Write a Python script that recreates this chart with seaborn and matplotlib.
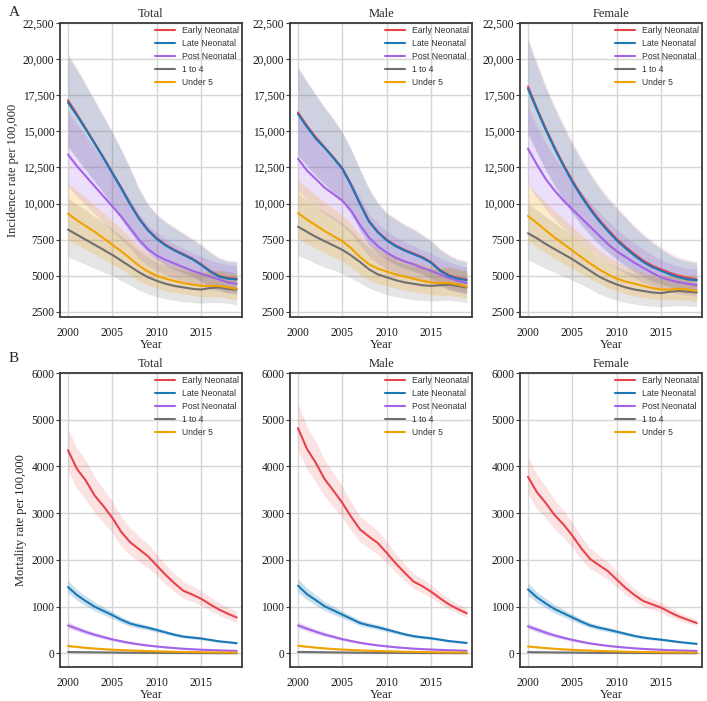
import matplotlib
matplotlib.use("Agg")
import matplotlib.pyplot as plt
import seaborn as sns
from matplotlib.ticker import FuncFormatter

# ---- data (rate per 100,000) ----
years = list(range(2000, 2020))
groups = ["Early Neonatal", "Late Neonatal", "Post Neonatal", "1 to 4", "Under 5"]
colors = ["#e8434a", "#1a78b8", "#a362e8", "#6f6f6f", "#f2a200"]
sexes = ["Total", "Male", "Female"]

# Incidence - Total
inc_total_early = [17150, 16200, 15200, 14200, 13200, 12150, 11100, 10000, 9000, 8200, 7600, 7150, 6800, 6500, 6200, 5800, 5350, 5000, 4850, 4800]
inc_total_early_hi = [20400, 19400, 18300, 17200, 16100, 15000, 13800, 12500, 11100, 10000, 9300, 8800, 8400, 8000, 7600, 7200, 6700, 6300, 6100, 6050]
inc_total_early_lo = [14000, 13200, 12400, 11600, 10800, 9900, 9000, 8100, 7300, 6700, 6200, 5800, 5500, 5250, 5000, 4700, 4350, 4100, 3950, 3900]
inc_total_late = [17000, 16100, 15150, 14150, 13150, 12100, 11050, 9950, 8950, 8150, 7550, 7100, 6750, 6450, 6150, 5750, 5300, 4950, 4800, 4750]
inc_total_late_hi = [20200, 19250, 18200, 17100, 16000, 14900, 13700, 12400, 11000, 9900, 9200, 8700, 8300, 7900, 7500, 7100, 6600, 6200, 6000, 5950]
inc_total_late_lo = [13900, 13100, 12300, 11500, 10700, 9800, 8900, 8000, 7200, 6600, 6100, 5700, 5400, 5150, 4900, 4600, 4250, 4000, 3850, 3800]
inc_total_post = [13400, 12600, 11900, 11200, 10500, 9800, 9100, 8300, 7500, 6850, 6400, 6100, 5850, 5600, 5350, 5150, 4950, 4750, 4550, 4450]
inc_total_post_hi = [16400, 15500, 14700, 13800, 13000, 12100, 11300, 10300, 9300, 8500, 8000, 7600, 7200, 6900, 6600, 6350, 6100, 5900, 5750, 5700]
inc_total_post_lo = [11200, 10500, 9900, 9300, 8700, 8100, 7500, 6900, 6200, 5700, 5350, 5100, 4850, 4650, 4450, 4300, 4100, 3950, 3800, 3700]
inc_total_1to4 = [8200, 7850, 7500, 7150, 6800, 6450, 6050, 5650, 5250, 4900, 4650, 4450, 4300, 4200, 4100, 4050, 4150, 4200, 4100, 4050]
inc_total_1to4_hi = [10400, 9950, 9550, 9100, 8700, 8250, 7750, 7250, 6750, 6300, 5950, 5700, 5500, 5400, 5250, 5200, 5300, 5400, 5300, 5200]
inc_total_1to4_lo = [6300, 6050, 5800, 5500, 5250, 5000, 4650, 4350, 4000, 3750, 3550, 3400, 3300, 3200, 3150, 3100, 3150, 3150, 3100, 3000]
inc_total_u5 = [9300, 8850, 8450, 8050, 7600, 7150, 6700, 6200, 5700, 5300, 5000, 4800, 4650, 4500, 4400, 4300, 4300, 4300, 4200, 4100]
inc_total_u5_hi = [11400, 10900, 10400, 9900, 9350, 8800, 8250, 7650, 7050, 6550, 6200, 5950, 5750, 5550, 5400, 5300, 5300, 5350, 5200, 5100]
inc_total_u5_lo = [7500, 7150, 6800, 6500, 6150, 5800, 5450, 5050, 4650, 4350, 4150, 3950, 3850, 3750, 3650, 3550, 3550, 3550, 3450, 3350]

# Incidence - Male
inc_male_early = [16300, 15400, 14600, 13900, 13200, 12450, 11300, 10000, 8800, 8050, 7500, 7100, 6800, 6550, 6300, 5950, 5400, 5050, 4850, 4750]
inc_male_early_hi = [19500, 18500, 17600, 16700, 15900, 15000, 13800, 12400, 11100, 10100, 9400, 9000, 8600, 8300, 7900, 7500, 6900, 6500, 6200, 6050]
inc_male_early_lo = [13400, 12700, 12000, 11400, 10800, 10200, 9300, 8200, 7200, 6600, 6200, 5850, 5600, 5400, 5200, 4900, 4450, 4150, 4000, 3900]
inc_male_late = [16200, 15300, 14500, 13850, 13150, 12400, 11250, 9950, 8750, 8000, 7450, 7050, 6750, 6500, 6250, 5900, 5350, 5000, 4800, 4700]
inc_male_late_hi = [19400, 18400, 17500, 16600, 15800, 14900, 13700, 12300, 11000, 10000, 9300, 8900, 8500, 8200, 7800, 7400, 6800, 6400, 6100, 5950]
inc_male_late_lo = [13300, 12600, 11900, 11300, 10700, 10100, 9200, 8100, 7100, 6500, 6100, 5750, 5500, 5300, 5100, 4800, 4350, 4050, 3900, 3800]
inc_male_post = [13100, 12300, 11700, 11100, 10650, 10200, 9500, 8500, 7650, 7050, 6600, 6250, 6000, 5800, 5550, 5350, 5100, 4850, 4650, 4500]
inc_male_post_hi = [16000, 15100, 14400, 13700, 13100, 12500, 11600, 10400, 9300, 8600, 8100, 7700, 7350, 7100, 6800, 6550, 6250, 5950, 5750, 5600]
inc_male_post_lo = [10900, 10300, 9800, 9300, 8900, 8500, 7900, 7100, 6350, 5850, 5500, 5200, 5000, 4850, 4650, 4450, 4250, 4050, 3900, 3750]
inc_male_1to4 = [8400, 8050, 7700, 7400, 7100, 6800, 6400, 5950, 5450, 5100, 4900, 4700, 4550, 4450, 4350, 4300, 4350, 4400, 4300, 4200]
inc_male_1to4_hi = [10700, 10250, 9800, 9450, 9050, 8650, 8150, 7550, 6950, 6500, 6250, 6000, 5800, 5650, 5550, 5450, 5500, 5600, 5450, 5350]
inc_male_1to4_lo = [6400, 6150, 5850, 5600, 5400, 5150, 4850, 4500, 4150, 3900, 3700, 3550, 3450, 3350, 3300, 3250, 3300, 3300, 3250, 3150]
inc_male_u5 = [9350, 8900, 8500, 8100, 7750, 7400, 6900, 6300, 5800, 5500, 5300, 5100, 4950, 4800, 4650, 4550, 4500, 4500, 4400, 4250]
inc_male_u5_hi = [11600, 11100, 10600, 10100, 9650, 9200, 8600, 7850, 7200, 6850, 6550, 6300, 6100, 5950, 5800, 5650, 5600, 5600, 5500, 5300]
inc_male_u5_lo = [7600, 7250, 6900, 6600, 6300, 6000, 5600, 5100, 4700, 4450, 4300, 4150, 4000, 3900, 3800, 3700, 3650, 3650, 3550, 3450]

# Incidence - Female
inc_female_early = [18100, 16600, 15200, 13900, 12700, 11600, 10600, 9700, 8900, 8200, 7550, 7000, 6500, 6050, 5700, 5450, 5200, 5000, 4850, 4750]
inc_female_early_hi = [21500, 19800, 18200, 16800, 15500, 14300, 13200, 12200, 11300, 10500, 9800, 9150, 8500, 7950, 7450, 7000, 6600, 6300, 6150, 6000]
inc_female_early_lo = [14900, 13600, 12400, 11300, 10300, 9400, 8600, 7900, 7250, 6700, 6200, 5750, 5350, 5000, 4700, 4500, 4300, 4150, 4000, 3900]
inc_female_late = [17950, 16500, 15100, 13800, 12600, 11500, 10500, 9600, 8800, 8100, 7450, 6900, 6400, 5950, 5600, 5350, 5100, 4900, 4750, 4700]
inc_female_late_hi = [21300, 19600, 18000, 16600, 15300, 14100, 13000, 12000, 11100, 10300, 9650, 9000, 8350, 7800, 7300, 6850, 6450, 6150, 6000, 5900]
inc_female_late_lo = [14800, 13500, 12300, 11200, 10200, 9300, 8500, 7800, 7150, 6600, 6100, 5650, 5250, 4900, 4600, 4400, 4200, 4050, 3900, 3800]
inc_female_post = [13800, 12700, 11700, 10900, 10200, 9600, 9000, 8400, 7800, 7200, 6700, 6300, 5900, 5550, 5200, 4900, 4700, 4550, 4450, 4350]
inc_female_post_hi = [16700, 15400, 14200, 13200, 12300, 11500, 10800, 10100, 9400, 8800, 8200, 7700, 7250, 6850, 6450, 6100, 5850, 5650, 5550, 5450]
inc_female_post_lo = [11300, 10400, 9600, 8900, 8300, 7800, 7300, 6800, 6350, 5900, 5500, 5150, 4850, 4550, 4300, 4050, 3900, 3750, 3650, 3600]
inc_female_1to4 = [7950, 7600, 7200, 6850, 6500, 6150, 5750, 5350, 4950, 4650, 4400, 4200, 4050, 3950, 3850, 3800, 3900, 3950, 3900, 3850]
inc_female_1to4_hi = [10000, 9550, 9100, 8650, 8250, 7800, 7300, 6800, 6300, 5900, 5600, 5350, 5150, 5000, 4900, 4850, 4950, 5100, 5000, 4950]
inc_female_1to4_lo = [6100, 5800, 5500, 5250, 4950, 4700, 4400, 4100, 3750, 3500, 3300, 3150, 3050, 2950, 2900, 2850, 2900, 2950, 2900, 2850]
inc_female_u5 = [9150, 8650, 8150, 7650, 7200, 6750, 6300, 5850, 5450, 5100, 4800, 4600, 4450, 4300, 4150, 4050, 4050, 4100, 4050, 3950]
inc_female_u5_hi = [11300, 10700, 10100, 9500, 8950, 8400, 7850, 7300, 6800, 6350, 5950, 5650, 5450, 5250, 5100, 5000, 5050, 5150, 5100, 5000]
inc_female_u5_lo = [7400, 7000, 6600, 6200, 5850, 5500, 5150, 4800, 4450, 4150, 3950, 3750, 3600, 3500, 3400, 3350, 3350, 3350, 3300, 3200]

# Mortality - Total
mort_total_early = [4350, 3950, 3700, 3380, 3150, 2900, 2600, 2380, 2230, 2080, 1880, 1680, 1500, 1340, 1260, 1170, 1050, 940, 850, 770]
mort_total_early_hi = [4800, 4400, 4130, 3780, 3520, 3250, 2930, 2680, 2510, 2340, 2120, 1900, 1710, 1530, 1440, 1340, 1210, 1090, 990, 900]
mort_total_early_lo = [3900, 3530, 3290, 3010, 2800, 2570, 2290, 2100, 1970, 1840, 1660, 1480, 1320, 1180, 1110, 1030, 920, 820, 740, 660]
mort_total_late = [1420, 1250, 1120, 1000, 910, 820, 720, 640, 590, 550, 500, 450, 400, 360, 340, 320, 290, 260, 240, 220]
mort_total_late_hi = [1560, 1370, 1230, 1100, 1000, 900, 790, 700, 650, 600, 550, 495, 440, 400, 375, 350, 320, 285, 265, 245]
mort_total_late_lo = [1290, 1140, 1020, 910, 830, 745, 655, 580, 535, 500, 455, 410, 365, 330, 310, 290, 265, 235, 220, 200]
mort_total_post = [600, 530, 460, 400, 350, 300, 260, 225, 195, 170, 150, 130, 115, 100, 90, 80, 72, 65, 60, 55]
mort_total_post_hi = [670, 590, 515, 450, 390, 335, 290, 250, 218, 190, 168, 146, 129, 112, 101, 90, 81, 73, 68, 62]
mort_total_post_lo = [540, 475, 410, 355, 312, 268, 232, 200, 174, 152, 134, 116, 102, 89, 80, 71, 64, 58, 53, 49]
mort_total_1to4 = [30, 28, 26, 24, 22, 20, 18, 16, 15, 14, 12, 11, 10, 9, 8, 8, 7, 6, 6, 5]
mort_total_1to4_hi = [36, 34, 31, 29, 26, 24, 22, 19, 18, 17, 14, 13, 12, 11, 10, 10, 8, 7, 7, 6]
mort_total_1to4_lo = [24, 22, 21, 19, 18, 16, 14, 13, 12, 11, 10, 9, 8, 7, 6, 6, 6, 5, 5, 4]
mort_total_u5 = [160, 140, 120, 105, 92, 80, 72, 64, 57, 50, 45, 40, 36, 32, 29, 26, 23, 21, 19, 17]
mort_total_u5_hi = [185, 162, 139, 121, 106, 92, 83, 74, 66, 58, 52, 46, 41, 37, 33, 30, 26, 24, 22, 20]
mort_total_u5_lo = [137, 120, 103, 90, 79, 69, 62, 55, 49, 43, 39, 34, 31, 27, 25, 22, 20, 18, 16, 14]

# Mortality - Male
mort_male_early = [4820, 4380, 4080, 3730, 3480, 3220, 2920, 2650, 2500, 2360, 2150, 1930, 1730, 1540, 1440, 1320, 1180, 1050, 950, 860]
mort_male_early_hi = [5350, 4860, 4530, 4140, 3860, 3570, 3240, 2940, 2780, 2620, 2390, 2140, 1920, 1710, 1600, 1470, 1310, 1170, 1060, 960]
mort_male_early_lo = [4340, 3940, 3670, 3360, 3130, 2900, 2630, 2390, 2250, 2120, 1940, 1740, 1560, 1390, 1300, 1190, 1060, 950, 860, 770]
mort_male_late = [1450, 1270, 1140, 1010, 920, 830, 740, 650, 600, 560, 510, 460, 410, 370, 345, 325, 295, 265, 245, 225]
mort_male_late_hi = [1600, 1400, 1255, 1110, 1010, 910, 810, 715, 660, 615, 560, 505, 450, 405, 380, 355, 325, 290, 270, 248]
mort_male_late_lo = [1310, 1150, 1030, 915, 835, 755, 675, 590, 545, 510, 465, 420, 375, 338, 315, 297, 270, 242, 224, 205]
mort_male_post = [600, 530, 465, 405, 355, 305, 265, 228, 198, 173, 152, 133, 117, 103, 93, 84, 76, 69, 63, 57]
mort_male_post_hi = [670, 592, 520, 453, 397, 341, 296, 255, 221, 193, 170, 149, 131, 115, 104, 94, 85, 77, 70, 64]
mort_male_post_lo = [540, 477, 418, 364, 319, 274, 238, 205, 178, 156, 137, 120, 105, 93, 84, 76, 68, 62, 57, 51]
mort_male_1to4 = [32, 30, 28, 25, 23, 21, 19, 17, 16, 14, 13, 12, 11, 10, 9, 8, 7, 7, 6, 6]
mort_male_1to4_hi = [38, 36, 33, 30, 27, 25, 23, 20, 19, 17, 15, 14, 13, 12, 11, 10, 8, 8, 7, 7]
mort_male_1to4_lo = [26, 24, 22, 20, 18, 17, 15, 14, 13, 11, 10, 10, 9, 8, 7, 6, 6, 6, 5, 5]
mort_male_u5 = [165, 145, 125, 108, 95, 83, 74, 66, 58, 52, 46, 41, 37, 33, 30, 27, 24, 22, 20, 18]
mort_male_u5_hi = [190, 167, 144, 124, 109, 95, 85, 76, 67, 60, 53, 47, 43, 38, 35, 31, 28, 25, 23, 21]
mort_male_u5_lo = [142, 125, 108, 93, 82, 71, 64, 57, 50, 45, 40, 35, 32, 28, 26, 23, 21, 19, 17, 15]

# Mortality - Female
mort_female_early = [3780, 3450, 3220, 2960, 2760, 2520, 2250, 2020, 1890, 1760, 1580, 1400, 1250, 1120, 1050, 980, 880, 790, 720, 650]
mort_female_early_hi = [4200, 3830, 3570, 3280, 3060, 2800, 2500, 2250, 2100, 1960, 1760, 1560, 1390, 1250, 1170, 1090, 980, 880, 800, 730]
mort_female_early_lo = [3400, 3100, 2890, 2660, 2480, 2260, 2020, 1810, 1700, 1580, 1420, 1260, 1120, 1000, 945, 880, 790, 710, 645, 585]
mort_female_late = [1370, 1200, 1070, 950, 860, 770, 680, 600, 550, 510, 465, 420, 375, 340, 315, 295, 270, 245, 225, 205]
mort_female_late_hi = [1510, 1320, 1180, 1045, 945, 845, 745, 660, 605, 560, 510, 460, 410, 372, 345, 322, 295, 267, 245, 224]
mort_female_late_lo = [1240, 1090, 970, 860, 780, 700, 620, 545, 500, 465, 425, 384, 343, 311, 288, 270, 247, 224, 206, 188]
mort_female_post = [580, 510, 445, 385, 335, 290, 250, 215, 187, 163, 142, 125, 110, 97, 87, 78, 70, 63, 58, 53]
mort_female_post_hi = [650, 570, 498, 430, 374, 324, 279, 240, 209, 182, 159, 140, 123, 108, 97, 87, 78, 70, 65, 59]
mort_female_post_lo = [520, 457, 398, 345, 300, 260, 224, 193, 168, 146, 127, 112, 98, 87, 78, 70, 63, 56, 52, 47]
mort_female_1to4 = [28, 26, 24, 22, 20, 19, 17, 15, 14, 13, 12, 11, 10, 9, 8, 7, 7, 6, 6, 5]
mort_female_1to4_hi = [34, 31, 29, 26, 24, 23, 20, 18, 17, 16, 14, 13, 12, 11, 10, 8, 8, 7, 7, 6]
mort_female_1to4_lo = [22, 21, 19, 18, 16, 15, 14, 12, 11, 10, 10, 9, 8, 7, 6, 6, 6, 5, 5, 4]
mort_female_u5 = [150, 132, 115, 100, 88, 77, 68, 61, 54, 48, 43, 38, 34, 31, 28, 25, 23, 21, 19, 17]
mort_female_u5_hi = [173, 152, 132, 115, 101, 89, 78, 70, 62, 55, 49, 44, 39, 36, 32, 29, 26, 24, 22, 20]
mort_female_u5_lo = [128, 112, 98, 85, 75, 65, 58, 52, 46, 41, 37, 32, 29, 26, 24, 21, 20, 18, 16, 14]

# ---- collect series per panel: (mean, lo, hi) in group order ----
keys = ["early", "late", "post", "1to4", "u5"]
g = globals()
def panel_series(measure, sex):
    out = []
    for k in keys:
        base = f"{measure}_{sex}_{k}"
        out.append((g[base], g[base + "_lo"], g[base + "_hi"]))
    return out

# ---- style ----
sns.set_theme(style="whitegrid")
plt.rcParams["font.family"] = ["Liberation Serif", "DejaVu Serif"]
plt.rcParams["axes.edgecolor"] = "#3a3a3a"
plt.rcParams["axes.linewidth"] = 1.3
plt.rcParams["grid.color"] = "#d6d6d6"
plt.rcParams["grid.linewidth"] = 1.0

fig = plt.figure(figsize=(7.07, 7.01), dpi=100)
W, H = 707, 701
lefts = [60, 290, 520]
width = 182
rows = [
    dict(measure="inc", top=23, bottom=317, ylim=(2150, 22500),
         yticks=list(range(2500, 22501, 2500)), ylabel="Incidence rate per 100,000",
         alphas=[0.12, 0.2, 0.2, 0.18, 0.2], letter="A", letter_y=12),
    dict(measure="mort", top=373, bottom=667, ylim=(-290, 6000),
         yticks=list(range(0, 6001, 1000)), ylabel="Mortality rate per 100,000",
         alphas=[0.15, 0.22, 0.25, 0.2, 0.2], letter="B", letter_y=358),
]
line_z = [3, 4, 3, 3, 3]

def ytick_fmt(v, pos):
    return f"{v:,.0f}" if v >= 10000 else f"{v:.0f}"

for row in rows:
    for j, sex in enumerate(sexes):
        ax = fig.add_axes([lefts[j] / W, 1 - row["bottom"] / H, width / W,
                           (row["bottom"] - row["top"]) / H])
        series = panel_series(row["measure"], sex.lower())
        for (mean, lo, hi), col, a in zip(series, colors, row["alphas"]):
            ax.fill_between(years, lo, hi, color=col, alpha=a, linewidth=0, zorder=1)
        for (mean, lo, hi), col, name, z in zip(series, colors, groups, line_z):
            sns.lineplot(x=years, y=mean, ax=ax, color=col, label=name,
                         linewidth=1.5, zorder=z)
        ax.set_xlim(1999.1, 2019.6)
        ax.set_ylim(*row["ylim"])
        ax.set_xticks([2000, 2005, 2010, 2015])
        ax.set_yticks(row["yticks"])
        ax.yaxis.set_major_formatter(FuncFormatter(ytick_fmt))
        ax.tick_params(axis="both", labelsize=8.3, pad=1, colors="#1a1a1a")
        ax.tick_params(axis="y", left=True, length=3, width=0.8, color="#3a3a3a")
        ax.tick_params(axis="x", bottom=False)
        ax.set_title(sex, fontsize=9, pad=4)
        ax.set_xlabel("Year", fontsize=9, labelpad=0.5)
        if j == 0:
            ax.set_ylabel(row["ylabel"], fontsize=9, labelpad=3)
        else:
            ax.set_ylabel("")
        for sp in ax.spines.values():
            sp.set_visible(True)
            sp.set_color("#3a3a3a")
        leg = ax.legend(loc="upper right", frameon=False,
                        handlelength=2.3, handletextpad=0.8, labelspacing=0.45,
                        borderaxespad=0.1, borderpad=0.3,
                        prop={"family": "Liberation Sans", "size": 6.2})
        for t in leg.get_texts():
            t.set_color("#333333")
    fig.text(0.012, 1 - row["letter_y"] / H, row["letter"], fontsize=11, va="center")

fig.savefig("out.png", dpi=100)
